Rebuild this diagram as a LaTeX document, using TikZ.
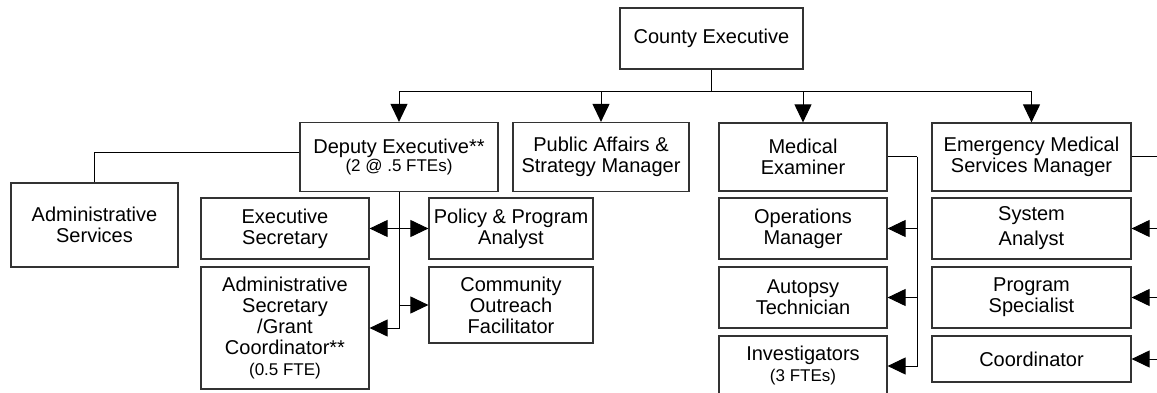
\documentclass[tikz,border=0pt]{standalone}
\usepackage{fontspec}
\setmainfont{Liberation Sans}
\usetikzlibrary{arrows.meta}

\newcommand\fte[1]{{\fontsize{17}{20}\selectfont #1}}

\begin{document}
\begin{tikzpicture}[x=1pt, y=-1pt, font=\fontsize{20}{21}\selectfont,
        box/.style = {draw=black!80, line width=1.2pt, align=center, inner sep=0pt},
        arr/.style = {line width=1pt, -{Triangle[length=18pt,width=17pt]}},
        link/.style = {line width=1pt}]
        \clip (0,0) rectangle (1157,393);

        % top
        \node[box, minimum width=183pt, minimum height=61pt] (ce) at (711.5,38.5) {County Executive};

        % second row
        \node[box, minimum width=198pt, minimum height=69pt] (de) at (399,157) {Deputy Executive**\\[-3pt]\fte{(2 @ .5 FTEs)}};
        \node[box, minimum width=176pt, minimum height=69pt] (pa) at (601,157) {Public Affairs \&\\Strategy Manager};
        \node[box, minimum width=168pt, minimum height=68pt] (me) at (803,157) {Medical\\Examiner};
        \node[box, minimum width=199pt, minimum height=68pt] (ems) at (1031.5,157) {Emergency Medical\\Services Manager};

        % deputy staff
        \node[box, minimum width=167pt, minimum height=84pt] (as) at (94.5,225) {Administrative\\Services};
        \node[box, minimum width=168pt, minimum height=61pt] (es) at (285,228.5) {Executive\\Secretary};
        \node[box, minimum width=168pt, minimum height=122pt] (asg) at (285,328) {Administrative\\Secretary\\/Grant\\Coordinator**\\\fte{(0.5 FTE)}};
        \node[box, minimum width=164pt, minimum height=61pt] (pp) at (511,228.5) {Policy \& Program\\Analyst};
        \node[box, minimum width=164pt, minimum height=76pt] (co) at (511,305) {Community\\Outreach\\Facilitator};

        % medical examiner staff
        \node[box, minimum width=168pt, minimum height=61pt] (om) at (803,228.5) {Operations\\Manager};
        \node[box, minimum width=168pt, minimum height=61pt] (at) at (803,297.5) {Autopsy\\Technician};
        \node[box, minimum width=168pt, minimum height=60pt] (inv) at (803,366) {Investigators\\\fte{(3 FTEs)}};

        % ems staff
        \node[box, minimum width=199pt, minimum height=61pt] (sa) at (1031.5,228.5) {System\\[4pt]Analyst};
        \node[box, minimum width=199pt, minimum height=61pt] (ps) at (1031.5,297.5) {Program\\Specialist};
        \node[box, minimum width=199pt, minimum height=46pt] (cd) at (1031.5,359) {Coordinator};

        % connectors
        \coordinate (bus) at (711.5,92);
        \coordinate (mebus) at (917,157);
        \coordinate (emsbus) at (1175,157);

        \draw[link] (ce) -- (bus);
        \draw[arr] (bus) -| (de);
        \draw[arr] (bus) -| (pa);
        \draw[arr] (bus) -| (me);
        \draw[arr] (bus) -| (ems);

        \draw[link] ([yshift=4pt]de.west) -| (as);
        \draw[arr] (de) |- (es);
        \draw[arr] (de) |- (pp);
        \draw[arr] (de) |- (co);
        \draw[arr] (de) |- (asg);

        \draw[link] (me) -- (mebus);
        \draw[arr] (mebus) |- (om);
        \draw[arr] (mebus) |- (at);
        \draw[arr] (mebus) |- (inv);

        \draw[link] (ems) -- (emsbus);
        \draw[arr] (emsbus) |- (sa);
        \draw[arr] (emsbus) |- (ps);
        \draw[arr] (emsbus) |- (cd);
\end{tikzpicture}
\end{document}
